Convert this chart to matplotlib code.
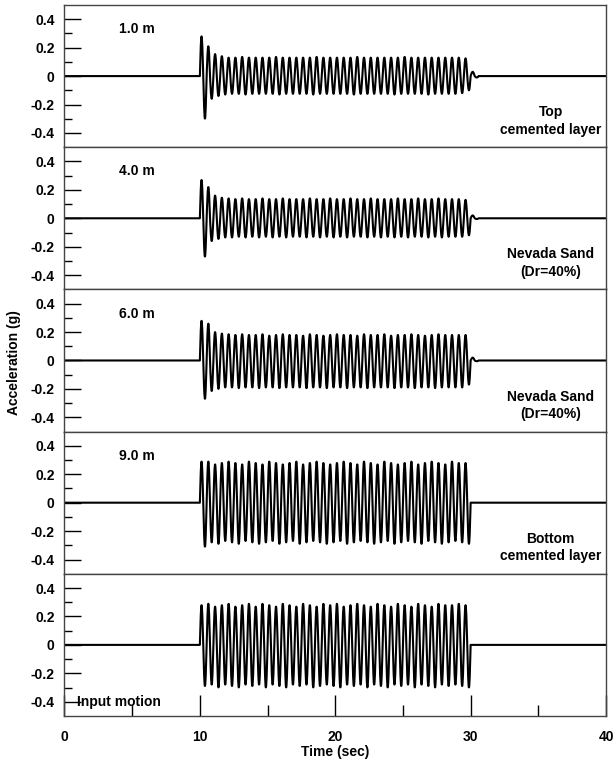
import numpy as np
import matplotlib.pyplot as plt
from matplotlib.ticker import MultipleLocator, FixedLocator

plt.rcParams['font.family'] = ['Liberation Sans', 'DejaVu Sans']
plt.rcParams['font.weight'] = 'bold'
plt.rcParams['font.size'] = 10

# shaking starts at 10 s, 2 Hz, 40 cycles
start = 10.0
half_period = 0.25
tail_half_period = 0.3

depths = ["1.0 m", "4.0 m", "6.0 m", "9.0 m", ""]
layers = ["Top\ncemented layer", "Nevada Sand\n(Dr=40%)", "Nevada Sand\n(Dr=40%)",
          "Bottom\ncemented layer", ""]

# peak accelerations (g) of each cycle
pos_1m = [0.28, 0.21, 0.155, 0.14, 0.13, 0.13, 0.135, 0.13, 0.13, 0.13,
          0.13, 0.135, 0.13, 0.13, 0.13, 0.13, 0.13, 0.135, 0.13, 0.13,
          0.13, 0.13, 0.13, 0.135, 0.13, 0.13, 0.13, 0.13, 0.13, 0.13,
          0.135, 0.13, 0.13, 0.13, 0.13, 0.13, 0.13, 0.13, 0.13, 0.125]
neg_1m = [-0.30, -0.16, -0.14, -0.13, -0.125, -0.125, -0.13, -0.125, -0.125, -0.125,
          -0.125, -0.13, -0.125, -0.125, -0.125, -0.125, -0.13, -0.125, -0.125, -0.125,
          -0.125, -0.125, -0.13, -0.125, -0.125, -0.125, -0.125, -0.125, -0.13, -0.125,
          -0.125, -0.125, -0.125, -0.13, -0.125, -0.125, -0.125, -0.125, -0.12, -0.10]
tail_1m = [0.03, -0.01]

pos_4m = [0.27, 0.22, 0.16, 0.145, 0.14, 0.135, 0.14, 0.135, 0.135, 0.14,
          0.135, 0.135, 0.14, 0.135, 0.135, 0.135, 0.14, 0.135, 0.135, 0.14,
          0.135, 0.135, 0.14, 0.135, 0.135, 0.14, 0.135, 0.135, 0.135, 0.14,
          0.135, 0.135, 0.14, 0.135, 0.135, 0.14, 0.135, 0.135, 0.135, 0.13]
neg_4m = [-0.27, -0.16, -0.145, -0.135, -0.135, -0.13, -0.135, -0.13, -0.135, -0.13,
          -0.135, -0.13, -0.135, -0.13, -0.13, -0.135, -0.13, -0.135, -0.13, -0.135,
          -0.13, -0.135, -0.13, -0.13, -0.135, -0.13, -0.135, -0.13, -0.135, -0.13,
          -0.135, -0.13, -0.13, -0.135, -0.13, -0.135, -0.13, -0.13, -0.13, -0.12]
tail_4m = [0.02, -0.005]

pos_6m = [0.28, 0.26, 0.20, 0.19, 0.185, 0.18, 0.185, 0.18, 0.18, 0.185,
          0.175, 0.18, 0.185, 0.18, 0.18, 0.175, 0.185, 0.18, 0.175, 0.18,
          0.185, 0.18, 0.18, 0.175, 0.185, 0.18, 0.18, 0.185, 0.175, 0.18,
          0.18, 0.185, 0.18, 0.175, 0.18, 0.185, 0.18, 0.18, 0.18, 0.18]
neg_6m = [-0.27, -0.215, -0.20, -0.19, -0.19, -0.195, -0.19, -0.19, -0.195, -0.19,
          -0.19, -0.195, -0.19, -0.19, -0.19, -0.195, -0.19, -0.19, -0.195, -0.19,
          -0.19, -0.195, -0.19, -0.19, -0.195, -0.19, -0.19, -0.19, -0.195, -0.19,
          -0.19, -0.195, -0.19, -0.19, -0.195, -0.19, -0.19, -0.19, -0.19, -0.17]
tail_6m = [0.02, -0.005]

pos_9m = [0.29, 0.29, 0.27, 0.28, 0.29, 0.28, 0.27, 0.29, 0.28, 0.27,
          0.29, 0.28, 0.27, 0.28, 0.29, 0.27, 0.28, 0.29, 0.28, 0.27,
          0.28, 0.29, 0.28, 0.27, 0.29, 0.28, 0.27, 0.29, 0.28, 0.27,
          0.28, 0.29, 0.27, 0.28, 0.29, 0.28, 0.27, 0.29, 0.28, 0.28]
neg_9m = [-0.31, -0.28, -0.29, -0.27, -0.28, -0.29, -0.27, -0.28, -0.29, -0.28,
          -0.27, -0.29, -0.28, -0.27, -0.29, -0.28, -0.27, -0.28, -0.29, -0.28,
          -0.27, -0.29, -0.28, -0.27, -0.28, -0.29, -0.28, -0.27, -0.29, -0.28,
          -0.27, -0.28, -0.29, -0.27, -0.28, -0.29, -0.28, -0.27, -0.28, -0.29]
tail_9m = []

pos_in = [0.28, 0.29, 0.27, 0.28, 0.29, 0.27, 0.28, 0.29, 0.27, 0.29,
          0.28, 0.27, 0.29, 0.28, 0.27, 0.29, 0.28, 0.27, 0.29, 0.28,
          0.29, 0.27, 0.28, 0.29, 0.28, 0.27, 0.29, 0.28, 0.27, 0.29,
          0.28, 0.27, 0.29, 0.28, 0.27, 0.29, 0.28, 0.28, 0.29, 0.28]
neg_in = [-0.29, -0.28, -0.30, -0.28, -0.29, -0.30, -0.28, -0.29, -0.28, -0.30,
          -0.28, -0.29, -0.30, -0.28, -0.29, -0.28, -0.30, -0.29, -0.28, -0.29,
          -0.30, -0.28, -0.29, -0.28, -0.30, -0.28, -0.29, -0.30, -0.28, -0.29,
          -0.28, -0.30, -0.28, -0.29, -0.30, -0.28, -0.29, -0.28, -0.29, -0.30]
tail_in = []

records = [(pos_1m, neg_1m, tail_1m), (pos_4m, neg_4m, tail_4m),
           (pos_6m, neg_6m, tail_6m), (pos_9m, neg_9m, tail_9m),
           (pos_in, neg_in, tail_in)]

yticks = [-0.4, -0.2, 0.0, 0.2, 0.4]
ytick_labels = ["-0.4", "-0.2", "0", "0.2", "0.4"]
xticks = [0, 10, 20, 30, 40]


def half_cycles(t0, peaks, hp):
    ts, ys = [], []
    for k, a in enumerate(peaks):
        tt = t0 + k * hp + np.linspace(0, hp, 16)[1:]
        ts.append(tt)
        ys.append(a * np.sin(np.pi * (tt - t0 - k * hp) / hp))
    return ts, ys


def trace(pos, neg, tail):
    peaks = [v for pair in zip(pos, neg) for v in pair]
    ts, ys = [np.array([0.0, start])], [np.array([0.0, 0.0])]
    a, b = half_cycles(start, peaks, half_period)
    ts += a
    ys += b
    end = start + len(peaks) * half_period
    a, b = half_cycles(end, tail, tail_half_period)
    ts += a
    ys += b
    end = end + len(tail) * tail_half_period
    ts.append(np.array([end, 40.0]))
    ys.append(np.array([0.0, 0.0]))
    return np.concatenate(ts), np.concatenate(ys)


fig, axes = plt.subplots(5, 1, sharex=True, figsize=(6.14, 7.67), dpi=100)
plt.subplots_adjust(left=0.105, right=0.987, top=0.9935, bottom=0.0665, hspace=0)

for i, ax in enumerate(axes):
    t, acc = trace(*records[i])
    ax.plot(t, acc, color="black", lw=1.5)
    ax.set_xlim(0, 40)
    ax.set_ylim(-0.5, 0.5)
    ax.set_yticks(yticks)
    ax.set_yticklabels(ytick_labels)
    ax.yaxis.set_minor_locator(FixedLocator([-0.3, -0.1, 0.1, 0.3]))
    ax.tick_params(axis="y", which="major", direction="in", length=12, width=1,
                   pad=7, labelsize=10)
    ax.tick_params(axis="y", which="minor", direction="in", length=6, width=1)
    for s in ax.spines.values():
        s.set_color("#444444")
        s.set_linewidth(1)
    if depths[i]:
        ax.text(4.0, 0.33, depths[i], ha="left", va="center", fontsize=10, fontweight="bold")
    if layers[i]:
        ax.text(35.9, -0.315, layers[i], ha="center", va="center", fontsize=10,
                fontweight="bold", linespacing=1.3)
    if i < 4:
        ax.tick_params(axis="x", which="both", length=0)

axes[4].text(0.95, -0.4, "Input motion", ha="left", va="center", fontsize=10, fontweight="bold")
axes[4].set_xticks(xticks)
axes[4].xaxis.set_minor_locator(MultipleLocator(5))
axes[4].tick_params(axis="x", which="major", direction="in", length=15, width=1,
                    pad=10, labelsize=10)
axes[4].tick_params(axis="x", which="minor", direction="in", length=8, width=1)
axes[4].set_xlabel("Time (sec)", fontsize=10, fontweight="bold", labelpad=1)

fig.text(0.022, 0.527, "Acceleration (g)", rotation=90, ha="center", va="center",
         fontsize=10, fontweight="bold")

plt.savefig("out.png", dpi=100)
